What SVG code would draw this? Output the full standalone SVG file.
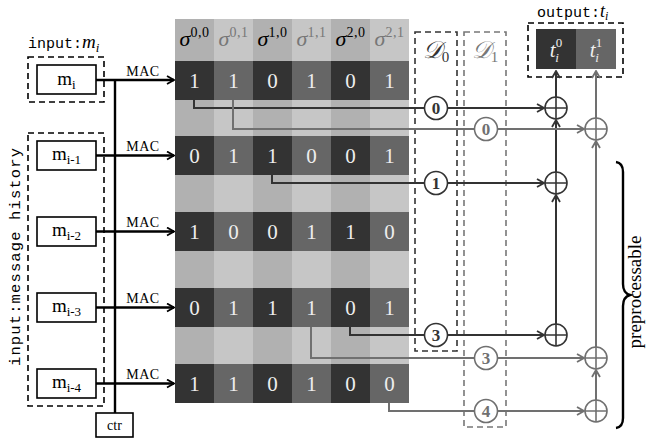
<svg xmlns="http://www.w3.org/2000/svg" width="647" height="442" viewBox="0 0 647 442">
<style>
.serif{font-family:"Liberation Serif","Times New Roman","DejaVu Serif",serif}
.mono{font-family:"Liberation Mono","DejaVu Sans Mono",monospace}
.le{fill:#b1b1b1}.lo{fill:#c6c6c6}.de{fill:#333}.do{fill:#666}
.dig{font-family:"Liberation Serif","Times New Roman",serif;font-size:21px;fill:#eee;text-anchor:middle}
.hd{font-family:"Liberation Serif","Times New Roman",serif;text-anchor:middle}
.box{fill:#fff;stroke:#000;stroke-width:1.6}
.dash{fill:none;stroke-width:1.6;stroke-dasharray:6 4}
.ml{font-family:"Liberation Serif","Times New Roman",serif;font-size:19px;text-anchor:middle}
.mac{font-family:"Liberation Serif","Times New Roman",serif;font-size:14px;text-anchor:middle;letter-spacing:0.5px}
.dk{stroke:#333;fill:none;stroke-width:2}
.gy{stroke:#707070;fill:none;stroke-width:2}
.cn{font-family:"Liberation Serif","Times New Roman",serif;font-size:17px;font-weight:bold;text-anchor:middle}
</style>
<defs>
<marker id="ab" viewBox="0 0 10 10" refX="9" refY="5" markerWidth="10" markerHeight="10" markerUnits="userSpaceOnUse" orient="auto"><path d="M2,1 L9,5 L2,9" fill="none" stroke="#000" stroke-width="1.8"/></marker>
<marker id="ad" viewBox="0 0 10 10" refX="9" refY="5" markerWidth="10" markerHeight="10" markerUnits="userSpaceOnUse" orient="auto"><path d="M2,1 L9,5 L2,9" fill="none" stroke="#333" stroke-width="1.8"/></marker>
<marker id="ag" viewBox="0 0 10 10" refX="9" refY="5" markerWidth="10" markerHeight="10" markerUnits="userSpaceOnUse" orient="auto"><path d="M2,1 L9,5 L2,9" fill="none" stroke="#707070" stroke-width="1.8"/></marker>
<g id="xor"><circle r="11" fill="#fff" stroke-width="1.6"/><path d="M-11,0H11M0,-11V11" stroke-width="1.6"/></g>
</defs>

<g id="matrix">
<rect class="le" x="175" y="19" width="39" height="384"/>
<rect class="lo" x="214" y="19" width="39" height="384"/>
<rect class="le" x="253" y="19" width="39" height="384"/>
<rect class="lo" x="292" y="19" width="39" height="384"/>
<rect class="le" x="331" y="19" width="39" height="384"/>
<rect class="lo" x="370" y="19" width="39" height="384"/>
<g id="darkrows">
<rect class="de" x="175" y="61" width="39" height="39"/><rect class="do" x="214" y="61" width="39" height="39"/><rect class="de" x="253" y="61" width="39" height="39"/><rect class="do" x="292" y="61" width="39" height="39"/><rect class="de" x="331" y="61" width="39" height="39"/><rect class="do" x="370" y="61" width="39" height="39"/>
<rect class="de" x="175" y="136" width="39" height="39"/><rect class="do" x="214" y="136" width="39" height="39"/><rect class="de" x="253" y="136" width="39" height="39"/><rect class="do" x="292" y="136" width="39" height="39"/><rect class="de" x="331" y="136" width="39" height="39"/><rect class="do" x="370" y="136" width="39" height="39"/>
<rect class="de" x="175" y="212" width="39" height="39"/><rect class="do" x="214" y="212" width="39" height="39"/><rect class="de" x="253" y="212" width="39" height="39"/><rect class="do" x="292" y="212" width="39" height="39"/><rect class="de" x="331" y="212" width="39" height="39"/><rect class="do" x="370" y="212" width="39" height="39"/>
<rect class="de" x="175" y="288" width="39" height="39"/><rect class="do" x="214" y="288" width="39" height="39"/><rect class="de" x="253" y="288" width="39" height="39"/><rect class="do" x="292" y="288" width="39" height="39"/><rect class="de" x="331" y="288" width="39" height="39"/><rect class="do" x="370" y="288" width="39" height="39"/>
<rect class="de" x="175" y="364" width="39" height="39"/><rect class="do" x="214" y="364" width="39" height="39"/><rect class="de" x="253" y="364" width="39" height="39"/><rect class="do" x="292" y="364" width="39" height="39"/><rect class="de" x="331" y="364" width="39" height="39"/><rect class="do" x="370" y="364" width="39" height="39"/>
</g>
<g id="header">
<text class="hd" x="194.5" y="46"><tspan font-style="italic" font-size="22">σ</tspan><tspan font-size="14" dy="-9" letter-spacing="0.5">0,0</tspan></text>
<text class="hd" x="233.5" y="46" fill="#777"><tspan font-style="italic" font-size="22">σ</tspan><tspan font-size="14" dy="-9" letter-spacing="0.5">0,1</tspan></text>
<text class="hd" x="272.5" y="46"><tspan font-style="italic" font-size="22">σ</tspan><tspan font-size="14" dy="-9" letter-spacing="0.5">1,0</tspan></text>
<text class="hd" x="311.5" y="46" fill="#777"><tspan font-style="italic" font-size="22">σ</tspan><tspan font-size="14" dy="-9" letter-spacing="0.5">1,1</tspan></text>
<text class="hd" x="350.5" y="46"><tspan font-style="italic" font-size="22">σ</tspan><tspan font-size="14" dy="-9" letter-spacing="0.5">2,0</tspan></text>
<text class="hd" x="389.5" y="46" fill="#777"><tspan font-style="italic" font-size="22">σ</tspan><tspan font-size="14" dy="-9" letter-spacing="0.5">2,1</tspan></text>
</g>
<g id="digits">
<text class="dig" x="194.5" y="88">1</text><text class="dig" x="233.5" y="88">1</text><text class="dig" x="272.5" y="88">0</text><text class="dig" x="311.5" y="88">1</text><text class="dig" x="350.5" y="88">0</text><text class="dig" x="389.5" y="88">1</text>
<text class="dig" x="194.5" y="163">0</text><text class="dig" x="233.5" y="163">1</text><text class="dig" x="272.5" y="163">1</text><text class="dig" x="311.5" y="163">0</text><text class="dig" x="350.5" y="163">0</text><text class="dig" x="389.5" y="163">1</text>
<text class="dig" x="194.5" y="239">1</text><text class="dig" x="233.5" y="239">0</text><text class="dig" x="272.5" y="239">0</text><text class="dig" x="311.5" y="239">1</text><text class="dig" x="350.5" y="239">1</text><text class="dig" x="389.5" y="239">0</text>
<text class="dig" x="194.5" y="315">0</text><text class="dig" x="233.5" y="315">1</text><text class="dig" x="272.5" y="315">1</text><text class="dig" x="311.5" y="315">1</text><text class="dig" x="350.5" y="315">0</text><text class="dig" x="389.5" y="315">1</text>
<text class="dig" x="194.5" y="391">1</text><text class="dig" x="233.5" y="391">1</text><text class="dig" x="272.5" y="391">0</text><text class="dig" x="311.5" y="391">1</text><text class="dig" x="350.5" y="391">0</text><text class="dig" x="389.5" y="391">0</text>
</g>
</g>

<g id="input">
<text x="28" y="48" class="mono" font-size="15">input:<tspan class="serif" font-style="italic" font-size="19">m</tspan><tspan class="serif" font-style="italic" font-size="13" dy="4">i</tspan></text>
<rect class="dash" stroke="#000" x="28" y="57" width="76" height="45"/>
<g id="m0"><rect class="box" x="37" y="65" width="59" height="29"/><text class="ml" x="66.5" y="85">m<tspan font-size="13" dy="4">i</tspan></text></g>
</g>

<g id="history">
<rect class="dash" stroke="#000" x="28" y="133" width="76" height="273"/>
<text class="mono" font-size="15.5" text-anchor="middle" textLength="218" lengthAdjust="spacing" transform="translate(20,257) rotate(-90)">input:message history</text>
<g id="m1"><rect class="box" x="37" y="141" width="59" height="29"/><text class="ml" x="66.5" y="160">m<tspan font-size="13" dy="4">i-1</tspan></text></g>
<g id="m2"><rect class="box" x="37" y="217" width="59" height="29"/><text class="ml" x="66.5" y="236">m<tspan font-size="13" dy="4">i-2</tspan></text></g>
<g id="m3"><rect class="box" x="37" y="293" width="59" height="29"/><text class="ml" x="66.5" y="312">m<tspan font-size="13" dy="4">i-3</tspan></text></g>
<g id="m4"><rect class="box" x="37" y="369" width="59" height="29"/><text class="ml" x="66.5" y="388">m<tspan font-size="13" dy="4">i-4</tspan></text></g>
</g>

<g id="ctr"><rect class="box" x="96" y="413" width="37" height="24"/><text class="serif" font-size="14" x="114.5" y="430" text-anchor="middle">ctr</text></g>

<g id="D0"><rect class="dash" stroke="#333" x="415" y="32" width="42" height="319"/><text class="serif" x="436" y="58" text-anchor="middle" fill="#333"><tspan font-size="24" font-style="italic">𝒟</tspan><tspan font-size="15" dy="4">0</tspan></text></g>
<g id="D1"><rect class="dash" stroke="#777" x="464" y="32" width="42" height="395"/><text class="serif" x="485" y="58" text-anchor="middle" fill="#777"><tspan font-size="24" font-style="italic">𝒟</tspan><tspan font-size="15" dy="4">1</tspan></text></g>

<g id="output">
<text x="537" y="17" class="mono" font-size="15">output:<tspan class="serif" font-style="italic" font-size="18">t</tspan><tspan class="serif" font-style="italic" font-size="12" dy="3">i</tspan></text>
<rect class="dash" stroke="#000" x="528" y="23" width="95" height="54"/>
<rect x="536" y="29" width="40" height="40" fill="#333"/>
<rect x="576" y="29" width="40" height="40" fill="#666"/>
<text class="serif" font-style="italic" fill="#eee" x="556" y="57" text-anchor="middle"><tspan font-size="21">t</tspan><tspan font-size="13" dy="-10" font-style="normal">0</tspan><tspan font-size="13" dx="-7" dy="15">i</tspan></text>
<text class="serif" font-style="italic" fill="#eee" x="596" y="57" text-anchor="middle"><tspan font-size="21">t</tspan><tspan font-size="13" dy="-10" font-style="normal">1</tspan><tspan font-size="13" dx="-7" dy="15">i</tspan></text>
</g>

<g id="connectors">
<g stroke="#000" stroke-width="2.4" fill="none" marker-end="url(#ab)">
<path d="M96,80H174"/><path d="M96,155.5H174"/><path d="M96,231.5H174"/><path d="M96,307.5H174"/><path d="M96,383.5H174"/>
</g>
<path d="M115,80V413" stroke="#000" stroke-width="2.4"/>
<text class="mac" x="143" y="76">MAC</text>
<text class="mac" x="143" y="151">MAC</text>
<text class="mac" x="143" y="227">MAC</text>
<text class="mac" x="143" y="303">MAC</text>
<text class="mac" x="143" y="379">MAC</text>

<g class="dk" marker-end="url(#ad)">
<path d="M194,100V108H544"/>
<path d="M272,175V183H544"/>
<path d="M350,327V335H544"/>
<path d="M556,324V195"/>
<path d="M556,172V120"/>
<path d="M556,97V71"/>
</g>
<g class="gy" marker-end="url(#ag)">
<path d="M233,100V129H584"/>
<path d="M311,327V358H584"/>
<path d="M389,403V411H584"/>
<path d="M596,400V370"/>
<path d="M596,347V141"/>
<path d="M596,118V71"/>
</g>
</g>

<g id="xors">
<use href="#xor" x="556" y="108" stroke="#333"/>
<use href="#xor" x="556" y="183" stroke="#333"/>
<use href="#xor" x="556" y="335" stroke="#333"/>
<use href="#xor" x="596" y="129" stroke="#707070"/>
<use href="#xor" x="596" y="358" stroke="#707070"/>
<use href="#xor" x="596" y="411" stroke="#707070"/>
</g>

<g id="labels">
<g stroke="#333" fill="#333"><circle cx="436" cy="108" r="11.5" fill="#fff" stroke-width="1.6"/><text class="cn" x="436" y="114" stroke="none">0</text></g>
<g stroke="#333" fill="#333"><circle cx="436" cy="183" r="11.5" fill="#fff" stroke-width="1.6"/><text class="cn" x="436" y="189" stroke="none">1</text></g>
<g stroke="#333" fill="#333"><circle cx="436" cy="335" r="11.5" fill="#fff" stroke-width="1.6"/><text class="cn" x="436" y="341" stroke="none">3</text></g>
<g stroke="#707070" fill="#707070"><circle cx="486" cy="129" r="11.5" fill="#fff" stroke-width="1.6"/><text class="cn" x="486" y="135" stroke="none">0</text></g>
<g stroke="#707070" fill="#707070"><circle cx="486" cy="358" r="11.5" fill="#fff" stroke-width="1.6"/><text class="cn" x="486" y="364" stroke="none">3</text></g>
<g stroke="#707070" fill="#707070"><circle cx="486" cy="411" r="11.5" fill="#fff" stroke-width="1.6"/><text class="cn" x="486" y="417" stroke="none">4</text></g>
</g>

<g id="brace">
<path d="M616,162 Q623,163 623,172 V284 Q623,293 630,295 Q623,297 623,306 V418 Q623,427 616,428" fill="none" stroke="#000" stroke-width="2.4"/>
<text class="serif" font-size="19" text-anchor="middle" transform="translate(641,292) rotate(-90)">preprocessable</text>
</g>
</svg>
